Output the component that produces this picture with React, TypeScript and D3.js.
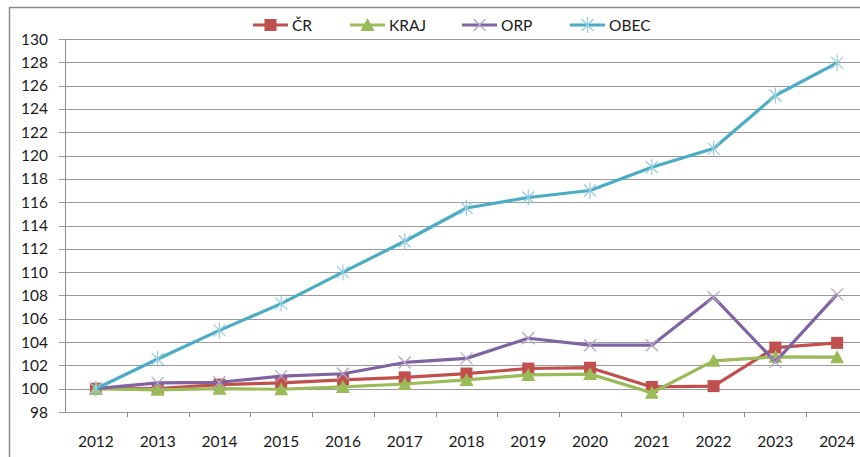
import { useEffect, useRef } from "react";
import * as d3 from "d3";

const years = ["2012", "2013", "2014", "2015", "2016", "2017", "2018", "2019", "2020", "2021", "2022", "2023", "2024"];
const cr = [100, 100.0, 100.35, 100.5, 100.75, 100.97, 101.3, 101.73, 101.8, 100.15, 100.22, 103.53, 103.93];
const kraj = [100, 99.9, 100.0, 99.95, 100.15, 100.4, 100.75, 101.18, 101.25, 99.65, 102.39, 102.73, 102.7];
const orp = [100, 100.5, 100.55, 101.08, 101.28, 102.25, 102.6, 104.33, 103.73, 103.73, 107.86, 102.3, 108.09];
const obec = [100, 102.55, 105.0, 107.3, 110.0, 112.65, 115.5, 116.4, 117.0, 119.0, 120.6, 125.15, 127.95];
const yTicks = d3.range(98, 131, 2);

const series = [
  { name: "ČR", values: cr, color: "#C0504D", marker: "square" },
  { name: "KRAJ", values: kraj, color: "#9BBB59", marker: "triangle" },
  { name: "ORP", values: orp, color: "#8064A2", marker: "x" },
  { name: "OBEC", values: obec, color: "#4BACC6", marker: "star" },
];

const font = "Lato, 'Open Sans', sans-serif";

const drawMarker = (g, kind, color, x, y) => {
  if (kind === "square") {
    g.append("rect")
      .attr("x", x - 6)
      .attr("y", y - 6)
      .attr("width", 12)
      .attr("height", 12)
      .attr("fill", color);
  } else if (kind === "triangle") {
    g.append("path")
      .attr("d", `M${x},${y - 7}L${x + 7},${y + 6}L${x - 7},${y + 6}Z`)
      .attr("fill", color);
  } else if (kind === "x") {
    g.append("path")
      .attr("d", `M${x - 6},${y - 6}L${x + 6},${y + 6}M${x - 6},${y + 6}L${x + 6},${y - 6}`)
      .attr("stroke", "#B3A2C7")
      .attr("stroke-width", 1.2)
      .attr("fill", "none");
  } else {
    g.append("path")
      .attr(
        "d",
        `M${x - 6},${y - 6}L${x + 6},${y + 6}M${x - 6},${y + 6}L${x + 6},${y - 6}M${x},${y - 8}L${x},${y + 8}`
      )
      .attr("stroke", "#93CDDD")
      .attr("stroke-width", 1.2)
      .attr("fill", "none");
  }
};

const App = () => {
  const svgRef = useRef(null);

  useEffect(() => {
    const svg = d3.select(svgRef.current);
    svg.selectAll("*").remove();

    const left = 65;
    const right = 868;
    const top = 39;
    const bottom = 412;

    const x = d3.scaleBand().domain(years).range([left, right]);
    const y = d3.scaleLinear().domain([98, 130]).range([bottom, top]);
    const cx = (d) => x(d) + x.bandwidth() / 2;

    svg.append("rect").attr("width", 860).attr("height", 457).attr("fill", "#fff");

    // outer chart border (right/bottom fall outside the picture)
    svg
      .append("rect")
      .attr("x", 9.5)
      .attr("y", 7.5)
      .attr("width", 880)
      .attr("height", 480)
      .attr("fill", "none")
      .attr("stroke", "#8C8C8C")
      .attr("stroke-width", 1.5);

    // gridlines
    svg
      .append("g")
      .selectAll("line")
      .data(yTicks)
      .enter()
      .append("line")
      .attr("x1", left - 6)
      .attr("x2", right)
      .attr("y1", (d) => Math.round(y(d)) + 0.5)
      .attr("y2", (d) => Math.round(y(d)) + 0.5)
      .attr("stroke", "#9A9A9A")
      .attr("stroke-width", 1);

    // y axis line
    svg
      .append("line")
      .attr("x1", left + 0.5)
      .attr("x2", left + 0.5)
      .attr("y1", top)
      .attr("y2", bottom)
      .attr("stroke", "#8C8C8C");

    // x ticks
    svg
      .append("g")
      .selectAll("line")
      .data(years.slice(1))
      .enter()
      .append("line")
      .attr("x1", (d) => Math.round(x(d)) + 0.5)
      .attr("x2", (d) => Math.round(x(d)) + 0.5)
      .attr("y1", bottom)
      .attr("y2", bottom + 5)
      .attr("stroke", "#8C8C8C");

    svg
      .append("g")
      .selectAll("text")
      .data(yTicks)
      .enter()
      .append("text")
      .attr("x", 48)
      .attr("y", (d) => y(d) + 5.5)
      .attr("text-anchor", "end")
      .attr("font-family", font)
      .attr("font-size", 15.5)
      .attr("fill", "#1a1a1a")
      .text((d) => d);

    svg
      .append("g")
      .selectAll("text")
      .data(years)
      .enter()
      .append("text")
      .attr("x", (d) => cx(d))
      .attr("y", 447)
      .attr("text-anchor", "middle")
      .attr("font-family", font)
      .attr("font-size", 15.5)
      .attr("fill", "#1a1a1a")
      .text((d) => d);

    const line = d3
      .line()
      .x((d, i) => cx(years[i]))
      .y((d) => y(d));

    series.forEach((s) => {
      const g = svg.append("g");
      g.append("path")
        .attr("d", line(s.values))
        .attr("fill", "none")
        .attr("stroke", s.color)
        .attr("stroke-width", 3.2)
        .attr("stroke-linejoin", "round");
      s.values.forEach((v, i) => drawMarker(g, s.marker, s.color, cx(years[i]), y(v)));
    });

    // legend
    const legendX = [253, 350, 462, 570];
    series.forEach((s, i) => {
      const g = svg.append("g");
      const lx = legendX[i];
      g.append("line")
        .attr("x1", lx)
        .attr("x2", lx + 35)
        .attr("y1", 25)
        .attr("y2", 25)
        .attr("stroke", s.color)
        .attr("stroke-width", 3.2);
      drawMarker(g, s.marker, s.color, lx + 17.5, 25);
      g.append("text")
        .attr("x", lx + 39)
        .attr("y", 30.5)
        .attr("font-family", font)
        .attr("font-size", 15.5)
        .attr("fill", "#1a1a1a")
        .text(s.name);
    });
  }, []);

  return (
    <svg
      ref={svgRef}
      width={860}
      height={457}
      style={{ position: "absolute", left: 0, top: 0 }}
    ></svg>
  );
};

export default App;
